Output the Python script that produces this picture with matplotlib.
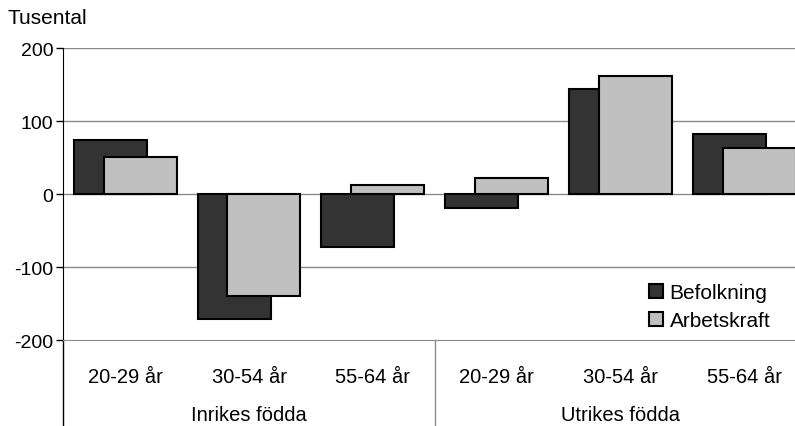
import matplotlib.pyplot as plt
import numpy as np
from matplotlib.transforms import blended_transform_factory

plt.rcParams["font.family"] = ["Liberation Sans", "DejaVu Sans"]

age_groups = ["20-29 år", "30-54 år", "55-64 år", "20-29 år", "30-54 år", "55-64 år"]
origin_groups = ["Inrikes födda", "Utrikes födda"]
befolkning = [74, -171, -72, -19, 144, 82]
arbetskraft = [51, -139, 13, 23, 162, 63]

DARK, LIGHT = "#333333", "#c0c0c0"
GRID = "#8a8a8a"

fig = plt.figure(figsize=(7.95, 4.27), dpi=100)
ax = fig.add_axes([63.3 / 795, 85.7 / 427, 1 - 63.3 / 795, 292 / 427])

x = np.arange(len(age_groups))
w, off = 0.59, 0.12
ax.bar(x - off, befolkning, w, color=DARK, edgecolor="black", lw=1.5, label="Befolkning", zorder=3)
ax.bar(x + off, arbetskraft, w, color=LIGHT, edgecolor="black", lw=1.5, label="Arbetskraft", zorder=4)

ax.set_ylim(-200, 200)
ax.set_xlim(-0.5, 5.41)
ax.set_yticks([-200, -100, 0, 100, 200])
ax.set_yticklabels(["-200", "-100", "0", "100", "200"], fontsize=14)
ax.tick_params(axis="y", length=5, width=1, pad=2)
ax.set_xticks(x)
ax.set_xticklabels(age_groups, fontsize=14.5)
ax.tick_params(axis="x", length=0, pad=19)
for v in [-100, 0, 100, 200]:
    ax.axhline(v, color=GRID, lw=1, zorder=1)
for s in ["top", "right"]:
    ax.spines[s].set_visible(False)
ax.spines["bottom"].set_color(GRID)
ax.spines["left"].set_color("black")

# extended axis lines for the group labels
ax.plot([0, 0], [0, -0.3], transform=ax.transAxes, color="black", lw=1, clip_on=False)
tr = blended_transform_factory(ax.transData, ax.transAxes)
ax.plot([2.5, 2.5], [0, -0.3], transform=tr, color=GRID, lw=1, clip_on=False)
for i, name in enumerate(origin_groups):
    ax.text(1 + 3 * i, -74.5 / 292, name, transform=tr, ha="center", va="center", fontsize=14.5)

fig.text(8 / 795, 1 - 18.5 / 427, "Tusental", ha="left", va="center", fontsize=15)

ax.legend(loc="center left", bbox_to_anchor=(0.800, 0.115), frameon=False, fontsize=15,
          handlelength=0.67, handleheight=0.67, handletextpad=0.33, labelspacing=0.45,
          borderaxespad=0, borderpad=0)

fig.savefig("out.png", dpi=100)
